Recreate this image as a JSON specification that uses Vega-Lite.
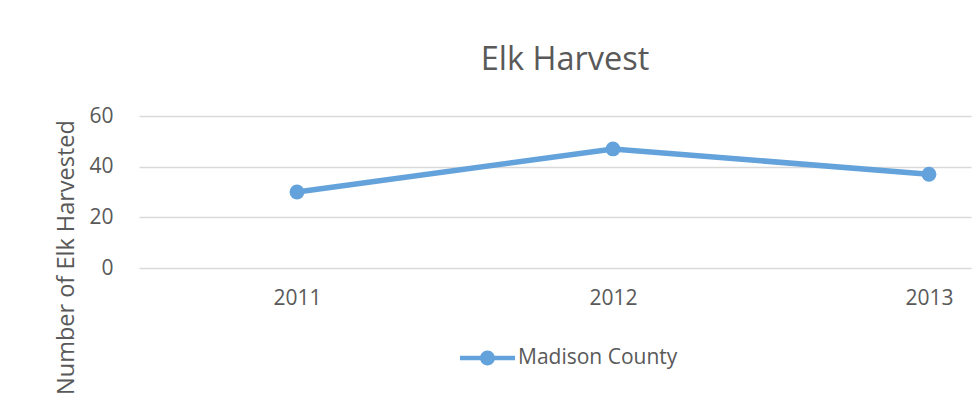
{
  "$schema": "https://vega.github.io/schema/vega-lite/v6.json",
  "autosize": "none",
  "width": 832,
  "height": 152,
  "padding": {"left": 139, "top": 116, "right": 5, "bottom": 134},
  "background": "white",
  "title": {
    "text": "Elk Harvest",
    "anchor": "middle",
    "frame": "group",
    "font": "Open Sans",
    "fontSize": 32.5,
    "fontWeight": "normal",
    "color": "#595959",
    "baseline": "alphabetic",
    "offset": 3,
    "dx": 10
  },
  "data": {
    "values": [
      {"year": 2011, "harvest": 30, "series": "Madison County"},
      {"year": 2012, "harvest": 47, "series": "Madison County"},
      {"year": 2013, "harvest": 37, "series": "Madison County"}
    ]
  },
  "encoding": {
    "x": {
      "field": "year",
      "type": "quantitative",
      "scale": {"domain": [2010.5, 2013.133], "nice": false, "zero": false},
      "axis": {
        "title": null,
        "values": [2011, 2012, 2013],
        "format": "d",
        "grid": false,
        "ticks": false,
        "domain": false,
        "labelFont": "Open Sans",
        "labelFontSize": 21,
        "labelColor": "#595959",
        "labelPadding": 19
      }
    },
    "y": {
      "field": "harvest",
      "type": "quantitative",
      "scale": {"domain": [0, 60], "nice": false},
      "axis": {
        "title": "Number of Elk Harvested",
        "values": [0, 20, 40, 60],
        "grid": true,
        "gridColor": "#D9D9D9",
        "gridWidth": 1.5,
        "ticks": false,
        "domain": false,
        "labelFont": "Open Sans",
        "labelFontSize": 21,
        "labelColor": "#595959",
        "labelPadding": 26,
        "titleFont": "Open Sans",
        "titleFontSize": 23.5,
        "titleFontWeight": "normal",
        "titleColor": "#595959",
        "titleX": -73,
        "titleY": 141,
        "titleAlign": "center",
        "titleBaseline": "middle",
        "titleAngle": -90
      }
    },
    "color": {
      "field": "series",
      "type": "nominal",
      "scale": {"domain": ["Madison County"], "range": ["#63A2DA"]},
      "legend": {
        "title": null,
        "orient": "none",
        "legendX": 321,
        "legendY": 214.5,
        "padding": 0,
        "symbolType": "M-1,-0.08L1,-0.08L1,0.08L-1,0.08Z M-0.27,0 A0.27,0.27 0 1,1 0.27,0 A0.27,0.27 0 1,1 -0.27,0 Z",
        "symbolSize": 3025,
        "symbolFillColor": "#63A2DA",
        "symbolStrokeWidth": 0,
        "symbolOpacity": 1,
        "labelFont": "Open Sans",
        "labelFontSize": 21,
        "labelColor": "#595959",
        "labelOffset": 3
      }
    }
  },
  "layer": [
    {"mark": {"type": "line", "strokeWidth": 5.5}},
    {"mark": {"type": "point", "filled": true, "size": 220, "opacity": 1}}
  ],
  "config": {"view": {"stroke": null}}
}
